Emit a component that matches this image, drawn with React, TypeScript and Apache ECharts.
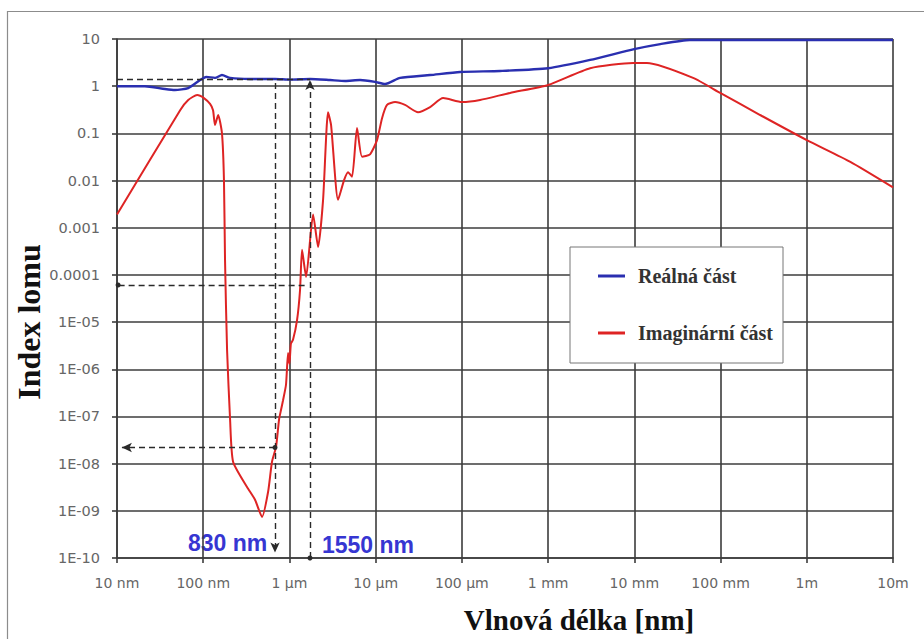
import { useEffect, useRef } from 'react';
import * as echarts from 'echarts';

// Tick labels
const xTickLabels = ['10 nm', '100 nm', '1 µm', '10 µm', '100 µm', '1 mm', '10 mm', '100 mm', '1m', '10m'];
const yTickLabels = ['1E-10', '1E-09', '1E-08', '1E-07', '1E-06', '1E-05', '0.0001', '0.001', '0.01', '0.1', '1', '10'];

const seriesNames = ['Reálná část', 'Imaginární část'];

// Real part (wavelength in nm, index)
const realX = [10, 21, 36, 47, 67, 92, 108, 137, 165, 205, 349, 680, 1017, 1734, 2958, 4415, 6590, 9840, 12860, 19200, 42800, 95300, 277000, 1e6, 3.07e6, 9.95e6, 2e7, 4.4e7, 1e10];
const realN = [1.0, 1.0, 0.87, 0.83, 0.91, 1.35, 1.57, 1.5, 1.72, 1.5, 1.42, 1.42, 1.38, 1.42, 1.35, 1.29, 1.35, 1.23, 1.11, 1.5, 1.72, 2.0, 2.1, 2.4, 3.6, 6.1, 7.8, 9.5, 9.5];

// Imaginary part
const imagX = [10, 54, 67, 85, 102, 120, 130, 137, 149, 165, 174, 179, 189, 205, 222, 322, 400, 481, 565, 628, 700, 757, 800, 843, 912, 964, 1000, 1040, 1100, 1225, 1327, 1400, 1560, 1880, 2150, 2455, 2805, 3040, 3665, 4300, 4785, 5320, 6080, 6950, 8600, 10370, 11860, 13550, 16800, 21900, 31000, 42800, 60500, 100400, 162600, 362000, 1e6, 3.07e6, 9.7e6, 1.4e7, 4.8e7, 9.9e7, 2.88e8, 1e9, 3.2e9, 1e10];
const imagK = [0.0019, 0.31, 0.51, 0.65, 0.56, 0.42, 0.31, 0.15, 0.245, 0.1, 0.0102, 2.1e-4, 2.6e-6, 8.5e-8, 1.1e-8, 3.2e-9, 1.7e-9, 7.4e-10, 2.5e-9, 1.1e-8, 2.3e-8, 8.5e-8, 1.4e-7, 2.2e-7, 4.7e-7, 2.2e-6, 1.3e-6, 3.5e-6, 4.2e-6, 1.1e-5, 4.8e-5, 3.4e-4, 9.1e-5, 1.9e-3, 3.9e-4, 3.9e-3, 0.28, 0.15, 0.0039, 0.0102, 0.015, 0.012, 0.13, 0.032, 0.036, 0.072, 0.21, 0.4, 0.46, 0.4, 0.28, 0.36, 0.56, 0.46, 0.51, 0.72, 1.06, 2.4, 3.1, 3.1, 1.5, 0.72, 0.245, 0.072, 0.025, 0.0072];

// Annotation values (as drawn in the reference)
const guide830X = 680;
const guide1550X = 1730;
const nGuide = 1.42;
const kGuide1550 = 6.1e-5;
const kGuide830 = 2.2e-8;
const xMin = 10;
const xMax = 1e10;
const yMin = 1e-10;
const yMax = 10;

export default function App() {
  const ref = useRef<HTMLDivElement>(null);
  useEffect(() => {
    if (!ref.current) return;
    const chart = echarts.init(ref.current, null, { renderer: 'svg' });
    const dash = { type: [6, 4] as any, color: '#2a2a2a', width: 1.4 };
    const gridColor = '#3c3c3c';
    const option: any = {
      animation: false,
      backgroundColor: '#ffffff',
      grid: { left: 117, right: 31, top: 39, bottom: 81, containLabel: false },
      legend: {
        data: seriesNames,
        orient: 'vertical',
        left: 570,
        top: 247,
        padding: [19, 10, 20, 28],
        itemGap: 37,
        itemWidth: 27,
        itemHeight: 3,
        icon: 'rect',
        backgroundColor: '#ffffff',
        borderColor: '#777',
        borderWidth: 1,
        textStyle: {
          fontFamily: 'Liberation Serif',
          fontWeight: 'bold',
          fontSize: 20,
          lineHeight: 20,
          color: '#333',
          padding: [0, 0, 0, 8],
        },
      },
      xAxis: {
        type: 'log',
        logBase: 10,
        min: xMin,
        max: xMax,
        splitNumber: 10,
        axisLine: { show: true, lineStyle: { color: gridColor, width: 1.6 } },
        axisTick: { show: true, length: 5, lineStyle: { color: gridColor, width: 1.6 } },
        splitLine: { show: true, lineStyle: { color: gridColor, width: 1.6 } },
        axisLabel: {
          margin: 18,
          color: '#666',
          fontFamily: 'DejaVu Sans',
          fontSize: 14,
          showMinLabel: true,
          showMaxLabel: true,
          formatter: (v: number) => xTickLabels[Math.round(Math.log10(v)) - 1] ?? '',
        },
      },
      yAxis: {
        type: 'log',
        logBase: 10,
        min: yMin,
        max: yMax,
        interval: 1,
        splitNumber: 11,
        axisLine: { show: true, lineStyle: { color: gridColor, width: 1.6 } },
        axisTick: { show: true, length: 5, lineStyle: { color: gridColor, width: 1.6 } },
        splitLine: { show: true, lineStyle: { color: gridColor, width: 1.6 } },
        axisLabel: {
          margin: 17,
          color: '#666',
          fontFamily: 'DejaVu Sans',
          fontSize: 14.5,
          showMinLabel: true,
          showMaxLabel: true,
          formatter: (v: number) => yTickLabels[Math.round(Math.log10(v)) + 10] ?? '',
        },
      },
      series: [
        {
          name: seriesNames[0],
          type: 'line',
          data: realX.map((x, i) => [x, realN[i]]),
          showSymbol: false,
          smooth: 0.2,
          color: '#2a2fb0',
          lineStyle: { color: '#2a2fb0', width: 2.4 },
          z: 4,
        },
        {
          name: seriesNames[1],
          type: 'line',
          data: imagX.map((x, i) => [x, imagK[i]]),
          showSymbol: false,
          smooth: 0.2,
          color: '#de2424',
          lineStyle: { color: '#de2424', width: 2 },
          z: 3,
          markLine: {
            silent: true,
            animation: false,
            label: { show: false },
            lineStyle: dash,
            symbolSize: 8,
            data: [
              [
                { coord: [xMin, nGuide], symbol: 'none' },
                { coord: [guide1550X, nGuide], symbol: 'none' },
              ],
              [
                { coord: [guide1550X, yMin], symbol: 'circle', symbolSize: 5 },
                { coord: [guide1550X, 1.36], symbol: 'arrow', symbolSize: [7, 10] },
              ],
              [
                { coord: [guide830X, 1.17], symbol: 'none' },
                { coord: [guide830X, 1.3e-10], symbol: 'arrow', symbolSize: [7, 10] },
              ],
              [
                { coord: [guide830X, kGuide830], symbol: 'circle', symbolSize: 5 },
                { coord: [11.4, kGuide830], symbol: 'arrow', symbolSize: [7, 10] },
              ],
              [
                { coord: [1500, kGuide1550], symbol: 'none' },
                { coord: [10.3, kGuide1550], symbol: 'circle', symbolSize: 5 },
              ],
            ],
          },
        },
      ],
      graphic: [
        {
          type: 'rect',
          z: -10,
          shape: { x: 7.5, y: 11.5, width: 940, height: 660 },
          style: { fill: 'none', stroke: '#8c8c8c', lineWidth: 1.2 },
          silent: true,
        },
        {
          type: 'text',
          x: 188,
          y: 543,
          style: {
            text: '830 nm',
            fill: '#3636d2',
            fontFamily: 'Liberation Sans',
            fontWeight: 'bold',
            fontSize: 23,
            verticalAlign: 'middle',
          },
        },
        {
          type: 'text',
          x: 322,
          y: 545,
          style: {
            text: '1550 nm',
            fill: '#3636d2',
            fontFamily: 'Liberation Sans',
            fontWeight: 'bold',
            fontSize: 23,
            verticalAlign: 'middle',
          },
        },
        {
          type: 'text',
          x: 579,
          y: 620,
          style: {
            text: 'Vlnová délka [nm]',
            fill: '#111',
            fontFamily: 'Liberation Serif',
            fontWeight: 'bold',
            fontSize: 29,
            align: 'center',
            verticalAlign: 'middle',
          },
        },
        {
          type: 'text',
          x: 29,
          y: 322,
          rotation: Math.PI / 2,
          style: {
            text: 'Index lomu',
            fill: '#111',
            fontFamily: 'Liberation Serif',
            fontWeight: 'bold',
            fontSize: 32,
            align: 'center',
            verticalAlign: 'middle',
          },
        },
      ],
    };
    chart.setOption(option);
    return () => chart.dispose();
  }, []);
  return <div ref={ref} style={{ position: 'absolute', left: 0, top: 0, width: 924, height: 639 }} />;
}
